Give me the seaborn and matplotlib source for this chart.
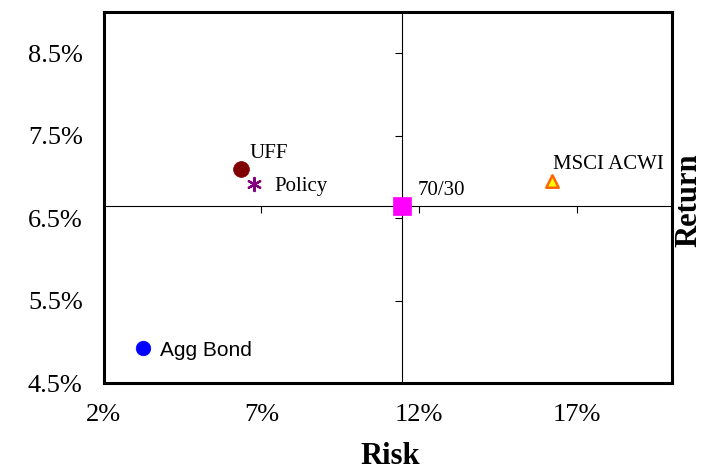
import numpy as np
import pandas as pd
import seaborn as sns
import matplotlib.pyplot as plt

# risk / return (in %)
names = ['UFF', 'Policy', '70/30', 'MSCI ACWI', 'Agg Bond']
risk = [6.36, 6.78, 11.44, 16.20, 3.24]
ret = [7.10, 6.91, 6.65, 6.95, 4.93]

x_ticks = [2, 7, 12, 17]
y_ticks = [4.5, 5.5, 6.5, 7.5, 8.5]

df = pd.DataFrame({'name': names, 'risk': risk, 'ret': ret})

# marker styles per portfolio
styles = {
    'UFF': dict(marker='o', color='#800000', edgecolor='#800000', s=130, lw=0.5),
    'Policy': dict(marker=(6, 2, 0), color='#800080', edgecolor='#800080', s=90, lw=1.6),
    '70/30': dict(marker='s', color='#FF00FF', edgecolor='#FF00FF', s=150, lw=0.5),
    'MSCI ACWI': dict(marker='^', color='#FFFF00', edgecolor='#FF6600', s=80, lw=1.8),
    'Agg Bond': dict(marker='o', color='#0000FF', edgecolor='#0000FF', s=110, lw=0.5),
}
# label offsets in pixels (dx, dy)
offsets = {
    'UFF': (8, 11),
    'Policy': (20, -7),
    '70/30': (16, 11),
    'MSCI ACWI': (1, 12),
    'Agg Bond': (17, -8),
}

sns.set_style('white')
plt.rcParams['font.family'] = ['Liberation Serif', 'DejaVu Serif']
plt.rcParams['text.color'] = 'black'
plt.rcParams['xtick.color'] = 'black'
plt.rcParams['ytick.color'] = 'black'
plt.rcParams['axes.labelcolor'] = 'black'

fig = plt.figure(figsize=(7.16, 4.72), dpi=100)
pos = [103.5 / 716, 1 - 383 / 472, (672 - 103.5) / 716, (383 - 12) / 472]

# crosshair axes underneath, spines crossing at the 70/30 portfolio
cross = df[df['name'] == '70/30'].iloc[0]
ax2 = fig.add_axes(pos, zorder=1)
ax2.set_xlim(2, 20)
ax2.set_ylim(4.5, 9.0)
ax2.spines['top'].set_visible(False)
ax2.spines['right'].set_visible(False)
ax2.spines['left'].set_position(('data', cross['risk']))
ax2.spines['bottom'].set_position(('data', cross['ret']))
for sp in ['left', 'bottom']:
    ax2.spines[sp].set_linewidth(0.8)
    ax2.spines[sp].set_color('black')
ax2.set_xticks(x_ticks)
ax2.set_yticks(y_ticks)
ax2.tick_params(direction='out', length=5, width=0.8, color='black',
                labelbottom=False, labelleft=False, bottom=True, left=True)

# main axes with box, labels and points
ax = fig.add_axes(pos, zorder=2)
ax.patch.set_visible(False)
for (n, d) in df.groupby('name', sort=False):
    st = styles[n]
    sns.scatterplot(data=d, x='risk', y='ret', ax=ax, marker=st['marker'],
                    color=st['color'], edgecolor=st['edgecolor'], s=st['s'],
                    linewidth=st['lw'], legend=False, zorder=3)

for n, x, y in zip(names, risk, ret):
    fam = ['Liberation Sans', 'DejaVu Sans'] if n == 'Agg Bond' else ['Liberation Serif', 'DejaVu Serif']
    ax.annotate(n, xy=(x, y), xytext=offsets[n], textcoords='offset pixels',
                ha='left', va='baseline', fontsize=15, family=fam, color='black')

ax.set_xlim(2, 20)
ax.set_ylim(4.5, 9.0)
ax.set_xticks(x_ticks)
ax.set_xticklabels([f'{v}%' for v in x_ticks])
ax.set_yticks(y_ticks)
ax.set_yticklabels([f'{v}%' for v in y_ticks])
ax.tick_params(length=0, labelsize=19, pad=15, labelcolor='black')
for sp in ax.spines.values():
    sp.set_visible(True)
    sp.set_linewidth(2.2)
    sp.set_color('black')
ax.set_xlabel('')
ax.set_ylabel('')

fig.text(390 / 716, 1 - 457 / 472, 'Risk', ha='center', va='center',
         fontsize=22, fontweight='bold', color='black')
fig.text(689 / 716, 1 - 200 / 472, 'Return', ha='center', va='center',
         fontsize=22, fontweight='bold', rotation=90, color='black')

fig.savefig('out.png', dpi=100, facecolor='white')
